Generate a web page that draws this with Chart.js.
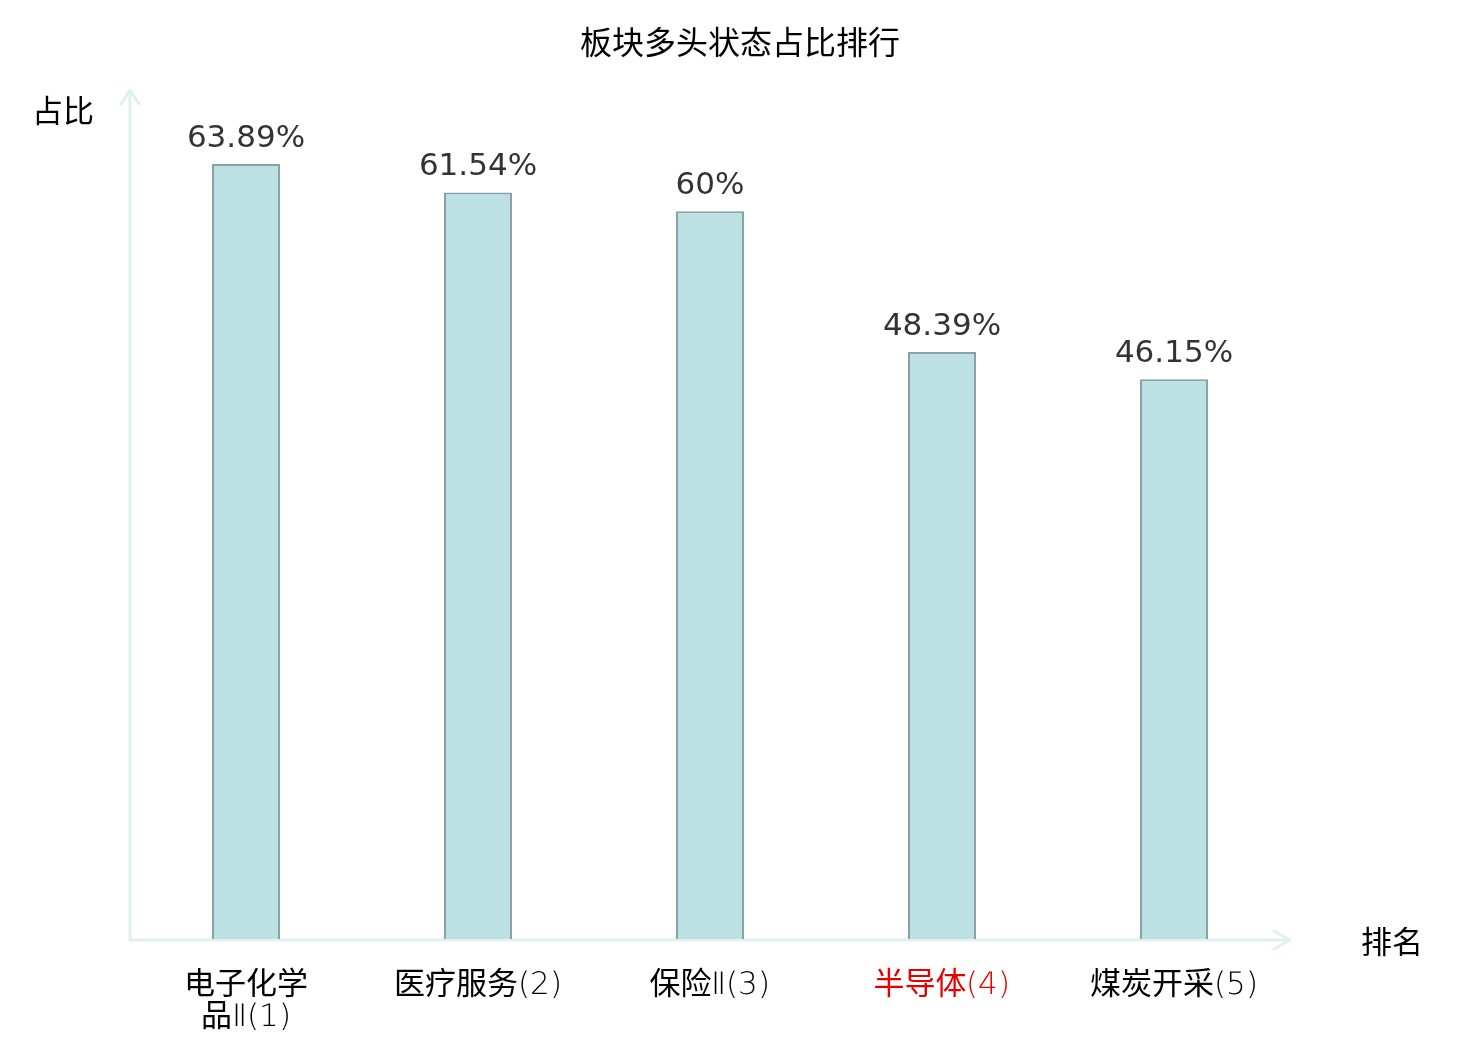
<!DOCTYPE html>
<html>
<head>
<meta charset="utf-8">
<script src="https://cdn.jsdelivr.net/npm/chart.js@4.4.1/dist/chart.umd.min.js"></script>
<style>
  body { margin: 0; background: #fff; }
  #wrap { width: 1480px; height: 1040px; }
  @font-face {
    font-family: 'TickLatin';
    src: local('DejaVu Sans ExtraLight'), local('DejaVuSans-ExtraLight');
    unicode-range: U+0000-00FF, U+2160-216F;
  }
</style>
</head>
<body>
<div id="wrap"><canvas id="myChart"></canvas></div>
<script>
// 数据
const categories = [['电子化学', '品Ⅱ(1)'], '医疗服务(2)', '保险Ⅱ(3)', '半导体(4)', '煤炭开采(5)'];
const values = [63.89, 61.54, 60, 48.39, 46.15];
const valueLabels = ['63.89%', '61.54%', '60%', '48.39%', '46.15%'];
const highlightIndex = 3;

const axisColor = '#dff2ef';
const cjkFont = '"Noto Sans CJK SC", "Noto Sans", sans-serif';
const tickFont = 'TickLatin, "Noto Sans CJK SC", sans-serif';

// 标题、坐标轴、箭头、轴名和数值标签
const axisPlugin = {
  id: 'axisArrows',
  beforeDatasetsDraw(chart) {
    const { ctx, chartArea: a } = chart;
    ctx.save();
    ctx.fillStyle = '#000';
    ctx.font = '32px ' + cjkFont;
    ctx.textAlign = 'center';
    ctx.textBaseline = 'middle';
    ctx.fillText('板块多头状态占比排行', chart.width / 2, 42);

    ctx.strokeStyle = axisColor;
    ctx.lineWidth = 3;
    ctx.lineCap = 'round';
    ctx.lineJoin = 'round';
    // y 轴
    ctx.beginPath();
    ctx.moveTo(a.left, a.bottom + 1);
    ctx.lineTo(a.left, a.top);
    ctx.moveTo(a.left - 9, a.top + 14);
    ctx.lineTo(a.left, a.top);
    ctx.lineTo(a.left + 9, a.top + 14);
    ctx.stroke();
    // x 轴
    ctx.beginPath();
    ctx.moveTo(a.left, a.bottom + 1);
    ctx.lineTo(a.right, a.bottom + 1);
    ctx.moveTo(a.right - 16, a.bottom - 8);
    ctx.lineTo(a.right, a.bottom + 1);
    ctx.lineTo(a.right - 16, a.bottom + 10);
    ctx.stroke();
    ctx.restore();
  },
  afterDatasetsDraw(chart) {
    const { ctx, chartArea: a } = chart;
    ctx.save();
    ctx.fillStyle = '#000';
    ctx.font = '31px ' + cjkFont;
    ctx.textAlign = 'center';
    ctx.textBaseline = 'middle';
    ctx.fillText('占比', a.left - 67, a.top + 20);
    ctx.fillText('排名', a.right + 102, a.bottom + 2);

    ctx.fillStyle = '#333';
    ctx.font = '31px "DejaVu Sans", sans-serif';
    ctx.textBaseline = 'bottom';
    chart.getDatasetMeta(0).data.forEach((bar, i) => {
      ctx.fillText(valueLabels[i], bar.x, bar.y - 10);
    });
    ctx.restore();
  }
};

function drawChart() {
  const ctx = document.getElementById('myChart').getContext('2d');
  new Chart(ctx, {
    type: 'bar',
    data: {
      labels: categories,
      datasets: [{
        label: '占比',
        data: values,
        backgroundColor: '#bce0e3',
        borderColor: '#86a3a3',
        borderWidth: 2,
        barPercentage: 0.293,
        categoryPercentage: 1
      }]
    },
    options: {
      responsive: true,
      maintainAspectRatio: false,
      animation: false,
      layout: { padding: { left: 0, right: 190, top: 90, bottom: 0 } },
      plugins: {
        legend: { display: false },
        tooltip: { enabled: false },
        title: { display: false }
      },
      scales: {
        x: {
          grid: { display: false },
          border: { display: false },
          ticks: {
            padding: 23,
            maxRotation: 0,
            autoSkip: false,
            font: { family: tickFont, size: 31, lineHeight: 1.03 },
            color: (c) => c.index === highlightIndex ? '#e60000' : '#000'
          },
          afterFit(scale) { scale.height = 101; }
        },
        y: {
          min: 0,
          max: 70,
          grid: { display: false },
          border: { display: false },
          ticks: { display: false },
          afterFit(scale) { scale.width = 130; }
        }
      }
    },
    plugins: [axisPlugin]
  });
}

document.fonts.load('31px TickLatin', '(1)Ⅱ').then(drawChart, drawChart);
</script>
</body>
</html>
